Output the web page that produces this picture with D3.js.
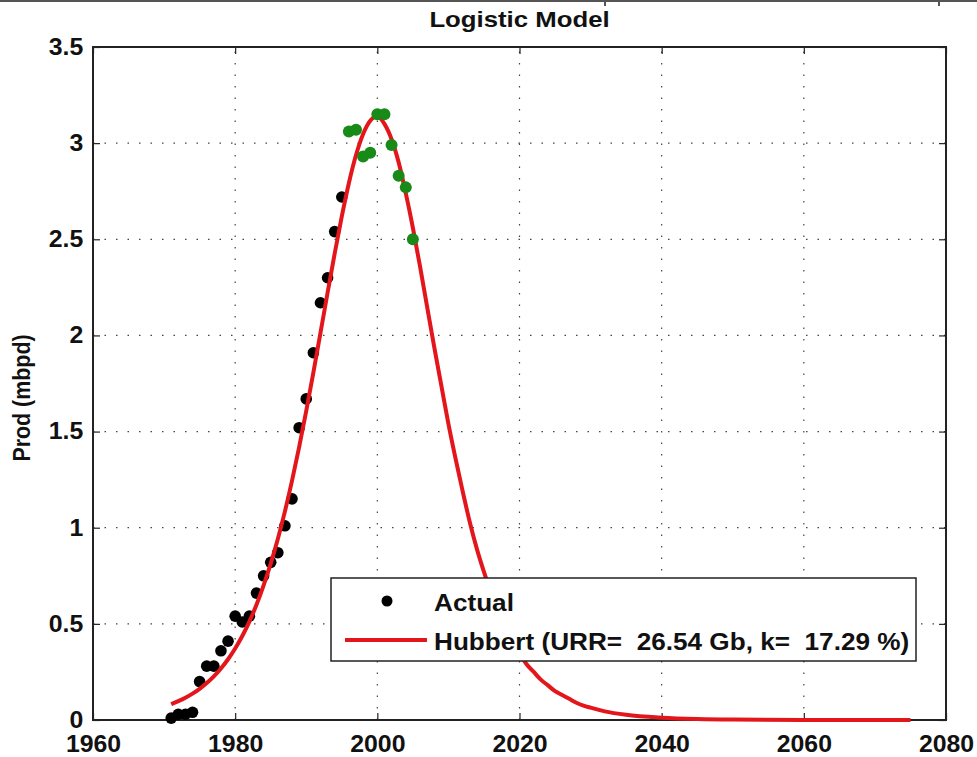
<!DOCTYPE html>
<html lang="en">
<head>
<meta charset="utf-8">
<title>Logistic Model</title>
<script src="https://d3js.org/d3.v7.min.js"></script>
<style>
  body { margin: 0; background: #fff; }
  text { font-family: "Liberation Sans", Arial, sans-serif; font-weight: bold; fill: #111; }
</style>
</head>
<body>
<div id="chart"></div>
<script>
// actual production, mbpd
const actualYears = [1971,1972,1973,1974,1975,1976,1977,1978,1979,1980,1981,1982,1983,1984,1985,
  1986,1987,1988,1989,1990,1991,1992,1993,1994,1995];
const actualValues = [0.01,0.03,0.03,0.04,0.20,0.28,0.28,0.36,0.41,0.54,0.51,0.54,0.66,0.75,0.82,
  0.87,1.01,1.15,1.52,1.67,1.91,2.17,2.30,2.54,2.72];
// later years (drawn green)
const recentYears = [1996,1997,1998,1999,2000,2001,2002,2003,2004,2005];
const recentValues = [3.06,3.07,2.93,2.95,3.15,3.15,2.99,2.83,2.77,2.50];

// hubbert curve
const hubbertYears = [1971,1972,1973,1974,1975,1976,1977,1978,1979,1980,1981,1982,1983,1984,1985,
  1986,1987,1988,1989,1990,1991,1992,1993,1994,1995,1996,1997,1998,1999,2000,
  2001,2002,2003,2004,2005,2006,2007,2008,2009,2010,2011,2012,2013,2014,2015,
  2016,2017,2018,2019,2020,2021,2022,2023,2024,2025,2026,2027,2028,2029,2030,
  2032,2035,2040,2045,2050,2060,2075];
const hubbertValues = [0.082,0.098,0.116,0.137,0.162,0.192,0.227,0.268,0.316,0.372,0.437,0.512,0.599,0.700,0.813,
  0.941,1.085,1.245,1.419,1.608,1.807,2.013,2.222,2.426,2.619,2.793,2.938,3.048,3.117,3.140,
  3.100,3.020,2.900,2.740,2.560,2.360,2.150,1.940,1.740,1.540,1.360,1.190,1.030,0.890,0.770,
  0.660,0.560,0.480,0.410,0.350,0.290,0.250,0.210,0.180,0.150,0.130,0.110,0.090,0.075,0.064,
  0.045,0.027,0.012,0.005,0.002,0.0004,0];

const xTicks = [1960,1980,2000,2020,2040,2060,2080];
const yTicks = [0,0.5,1,1.5,2,2.5,3,3.5];
const legendLabels = ["Actual", "Hubbert (URR=  26.54 Gb, k=  17.29 %)"];

const W = 977, H = 757;
const margin = {top: 47, right: 31, bottom: 37, left: 93};
const SX = 1.08; // the picture is a bit wider than tall

const svg = d3.select("#chart").append("svg")
  .attr("width", W).attr("height", H);

// frame strip along the top
svg.append("rect").attr("x", 0).attr("y", 0).attr("width", W).attr("height", 2).attr("fill", "#555");
svg.append("rect").attr("x", 604).attr("y", 0).attr("width", 2).attr("height", 6).attr("fill", "#555");
svg.append("rect").attr("x", 938).attr("y", 0).attr("width", 2).attr("height", 6).attr("fill", "#555");

const x = d3.scaleLinear().domain([1960, 2080]).range([margin.left, W - margin.right]);
const y = d3.scaleLinear().domain([0, 3.5]).range([H - margin.bottom, margin.top]);

// grid
const grid = svg.append("g").attr("stroke", "#444").attr("stroke-width", 1.2).attr("stroke-dasharray", "1.5,10");
grid.selectAll("line.gx").data(xTicks.slice(1, -1)).join("line")
  .attr("x1", d => x(d)).attr("x2", d => x(d))
  .attr("y1", y(0)).attr("y2", y(3.5));
grid.selectAll("line.gy").data(yTicks.slice(1, -1)).join("line")
  .attr("y1", d => y(d)).attr("y2", d => y(d))
  .attr("x1", x(1960)).attr("x2", x(2080));

// axes, ticks pointing inward like matlab
const fmtY = d => d.toString();
const bottom = svg.append("g").attr("transform", `translate(0,${y(0)})`)
  .call(d3.axisBottom(x).tickValues(xTicks).tickFormat(d3.format("d")).tickSize(-7).tickPadding(16));
const left = svg.append("g").attr("transform", `translate(${x(1960)},0)`)
  .call(d3.axisLeft(y).tickValues(yTicks).tickFormat(fmtY).tickSize(-7).tickPadding(9));
svg.append("g").attr("transform", `translate(0,${y(3.5)})`)
  .call(d3.axisTop(x).tickValues(xTicks).tickFormat("").tickSize(-7));
svg.append("g").attr("transform", `translate(${x(2080)},0)`)
  .call(d3.axisRight(y).tickValues(yTicks).tickFormat("").tickSize(-7));

svg.selectAll(".domain").remove();
svg.selectAll(".tick line").attr("stroke", "#222").attr("stroke-width", 1.2);
[bottom, left].forEach(g => g.selectAll(".tick text")
  .attr("font-size", 23).attr("fill", "#111")
  .attr("font-family", "Liberation Sans, Arial, sans-serif").attr("font-weight", "bold")
  .attr("transform", `scale(${SX},1)`));

// axes box
svg.append("rect")
  .attr("x", x(1960)).attr("y", y(3.5))
  .attr("width", x(2080) - x(1960)).attr("height", y(0) - y(3.5))
  .attr("fill", "none").attr("stroke", "#222").attr("stroke-width", 2);

// actual (black) under the curve
svg.append("g").selectAll("circle")
  .data(actualYears.map((yr, i) => [yr, actualValues[i]]))
  .join("circle")
  .attr("cx", d => x(d[0])).attr("cy", d => y(d[1]))
  .attr("r", 5.8).attr("fill", "#000");

const line = d3.line().x(d => x(d[0])).y(d => y(d[1])).curve(d3.curveMonotoneX);
svg.append("path")
  .datum(hubbertYears.map((yr, i) => [yr, hubbertValues[i]]))
  .attr("d", line)
  .attr("fill", "none").attr("stroke", "#e3161b").attr("stroke-width", 4);

// recent years in green, on top
svg.append("g").selectAll("circle")
  .data(recentYears.map((yr, i) => [yr, recentValues[i]]))
  .join("circle")
  .attr("cx", d => x(d[0])).attr("cy", d => y(d[1]))
  .attr("r", 6).attr("fill", "#178a17");

// title
svg.append("text")
  .attr("transform", `translate(${(x(1960) + x(2080)) / 2},27) scale(1.12,1)`)
  .attr("text-anchor", "middle").attr("font-size", 23)
  .text("Logistic Model");

// y label
svg.append("text")
  .attr("transform", `translate(30,398) scale(${SX},1) rotate(-90)`)
  .attr("text-anchor", "middle").attr("font-size", 21.4)
  .text("Prod (mbpd)");

// legend
const lg = svg.append("g");
lg.append("rect").attr("x", 331).attr("y", 578).attr("width", 585).attr("height", 83)
  .attr("fill", "#fff").attr("stroke", "#222").attr("stroke-width", 1.5);
lg.append("circle").attr("cx", 387).attr("cy", 601).attr("r", 5.5).attr("fill", "#000");
lg.append("line").attr("x1", 345).attr("x2", 427).attr("y1", 640).attr("y2", 640)
  .attr("stroke", "#e3161b").attr("stroke-width", 4);
lg.selectAll("text").data(legendLabels).join("text")
  .attr("transform", (d, i) => `translate(434,${[611, 650][i]}) scale(1.09,1)`)
  .attr("font-size", 24)
  .style("white-space", "pre")
  .text(d => d);
</script>
</body>
</html>
